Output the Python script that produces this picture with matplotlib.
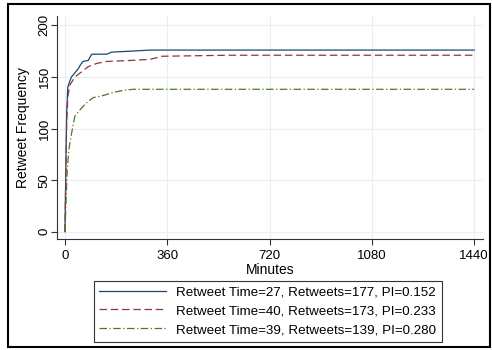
import matplotlib.pyplot as plt
from matplotlib.patches import Rectangle

plt.rcParams['font.family'] = ['Liberation Sans', 'DejaVu Sans']

# cumulative retweets by minute
t_blue = [0, 3, 6, 10, 17, 23, 35, 47, 55, 64, 82, 94, 147, 164, 235, 300, 1440]
y_blue = [0, 60, 115, 140, 146, 150, 154, 158, 162, 165, 166, 172, 172, 174, 175, 176, 176]
t_red = [0, 3, 6, 10, 17, 35, 59, 82, 111, 147, 235, 300, 341, 580, 1440]
y_red = [0, 55, 105, 130, 142, 150, 155, 160, 163, 165, 166, 167, 170, 171, 171]
t_green = [0, 4, 8, 14, 23, 35, 59, 80, 100, 135, 170, 205, 240, 1440]
y_green = [0, 30, 60, 80, 95, 112, 120, 126, 130, 132, 135, 137, 138, 138]

labels = ['Retweet Time=27, Retweets=177, PI=0.152',
          'Retweet Time=40, Retweets=173, PI=0.233',
          'Retweet Time=39, Retweets=139, PI=0.280']
xticks = [0, 360, 720, 1080, 1440]
yticks = [0, 50, 100, 150, 200]

fig = plt.figure(figsize=(4.92, 3.5), dpi=100)
ax = fig.add_axes([57/492, 1 - 239/350, (483 - 57)/492, (239 - 16)/350])

grid_c = '#e6eff1'
for v in yticks:
    ax.axhline(v, color=grid_c, lw=0.8, zorder=0)
for v in xticks:
    ax.axvline(v, color=grid_c, lw=0.8, zorder=0)

ax.plot(t_blue, y_blue, color='#1a476f', lw=0.9, label=labels[0])
ax.plot(t_red, y_red, color='#90353b', lw=0.9, ls=(0, (6, 3)), label=labels[1])
ax.plot(t_green, y_green, color='#55752f', lw=0.9, ls=(0, (6, 2, 1, 2)), label=labels[2])

ax.set_xlim(-28, 1471)
ax.set_ylim(-7, 209)
ax.set_xticks(xticks)
ax.set_yticks(yticks)
ax.set_yticklabels([str(v) for v in yticks], rotation=90, va='center')
ax.tick_params(labelsize=9.5, length=4, color='#333333', width=0.8)
ax.tick_params(axis='y', pad=0.5)
ax.tick_params(axis='x', pad=4)
for s in ['top', 'right']:
    ax.spines[s].set_visible(False)
for s in ['left', 'bottom']:
    ax.spines[s].set_color('#333333')
    ax.spines[s].set_linewidth(0.8)
ax.set_xlabel('Minutes', fontsize=10, labelpad=1)
ax.set_ylabel('Retweet Frequency', fontsize=10)
ax.yaxis.set_label_coords(-0.064, 0.5)

leg = fig.legend(loc='center', bbox_to_anchor=(267.5/492, 1 - 311/350), fontsize=9.6,
                 frameon=True, fancybox=False, edgecolor='#333333', framealpha=1,
                 handlelength=5.0, handletextpad=0.8, borderpad=0.4, labelspacing=0.5)
leg.get_frame().set_linewidth(0.8)

fig.patches.append(Rectangle((8/492, 1 - 347/350), 482/492, 343/350, transform=fig.transFigure,
                             fill=False, edgecolor='black', lw=1.5))

fig.savefig('out.png', dpi=100)
